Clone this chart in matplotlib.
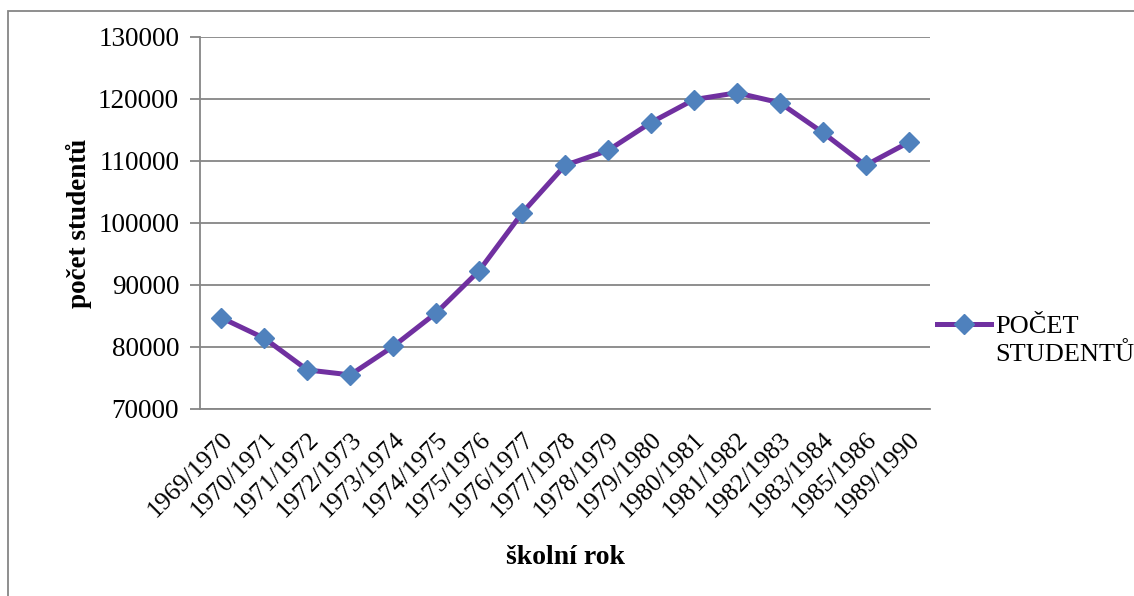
import matplotlib.pyplot as plt
import matplotlib.transforms as mtransforms
from matplotlib.patches import Rectangle

# data
skolni_roky = ['1969/1970', '1970/1971', '1971/1972', '1972/1973', '1973/1974',
               '1974/1975', '1975/1976', '1976/1977', '1977/1978', '1978/1979',
               '1979/1980', '1980/1981', '1981/1982', '1982/1983', '1983/1984',
               '1985/1986', '1989/1990']
pocet_studentu = [84700, 81400, 76300, 75500, 80100, 85500, 92300, 101600, 109300,
                  111700, 116200, 119900, 121000, 119400, 114600, 109300, 113000]

plt.rcParams['font.family'] = ['Liberation Serif', 'DejaVu Serif']

fig = plt.figure(figsize=(11.34, 5.96), dpi=100)
ax = fig.add_axes([200 / 1134, 1 - 409 / 596, 730 / 1134, 372 / 596])

# ramecek kolem celeho grafu
fig.patches.append(Rectangle((8 / 1134, -0.1), 1.2, 1 - 11 / 596 + 0.1,
                             transform=fig.transFigure, fill=False,
                             edgecolor='#868686', linewidth=1.3))

x = range(len(skolni_roky))
ax.plot(x, pocet_studentu, color='#7030A0', linewidth=3.6, marker='D',
        markersize=10, markerfacecolor='#4F81BD', markeredgecolor='#4F81BD',
        label='POČET')

ax.set_xlim(-0.5, len(skolni_roky) - 0.5)
ax.set_ylim(70000, 130000)
ax.set_yticks(range(70000, 130001, 10000))
ax.set_xticks(list(x))
ax.set_xticklabels(skolni_roky, rotation=45, ha='right', rotation_mode='anchor',
                   fontsize=18.5)
# posunout popisky osy x trochu doleva
posun = mtransforms.ScaledTranslation(-0.09, 0, fig.dpi_scale_trans)
for lbl in ax.get_xticklabels():
    lbl.set_transform(lbl.get_transform() + posun)

ax.tick_params(axis='y', labelsize=19.5, length=7, color='#868686', width=1.3, pad=8)
ax.tick_params(axis='x', length=0, pad=14)
ax.grid(axis='y', color='#868686', linewidth=1.3)
ax.set_axisbelow(True)
for s in ['top', 'right']:
    ax.spines[s].set_visible(False)
for s in ['left', 'bottom']:
    ax.spines[s].set_color('#868686')
    ax.spines[s].set_linewidth(1.3)

ax.set_ylabel('počet studentů', fontsize=19.5, fontweight='bold', labelpad=4)
ax.set_xlabel('školní rok', fontsize=20, fontweight='bold', labelpad=17)

# legenda - druhy radek popisku zvlast, aby znacka byla u prvniho radku jako v Excelu
ax.legend(loc='center left', bbox_to_anchor=(1.0, 0.223), frameon=False,
          fontsize=19, handlelength=2.05, handletextpad=0.18, borderaxespad=0.05,
          borderpad=0.2)
ax.text((995 - 200) / 730, (409 - 355) / 372, 'STUDENTŮ', transform=ax.transAxes,
        fontsize=19, ha='left', va='center')

fig.savefig('out.png', dpi=100)
